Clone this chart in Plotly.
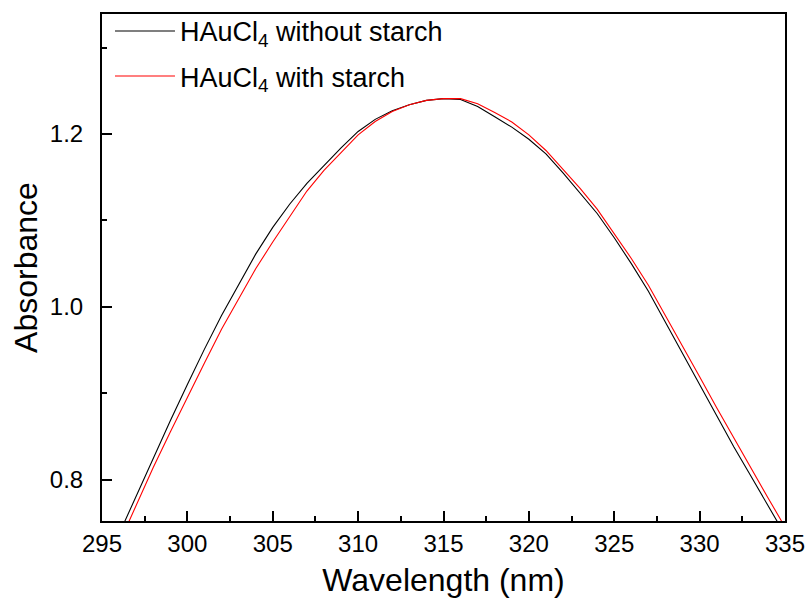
import plotly.graph_objects as go

# Data (absorbance spectra)
wl_without = [296, 297, 298, 299, 300, 301, 302, 303, 304, 305, 306, 307, 308, 309, 310,
              311, 312, 313, 314, 315, 316, 317, 318, 319, 320, 321, 322, 323, 324, 325,
              326, 327, 328, 329, 330, 331, 332, 333, 334, 335]
abs_without = [0.737, 0.781, 0.825, 0.868, 0.910, 0.951, 0.990, 1.026, 1.061, 1.092,
               1.119, 1.143, 1.164, 1.184, 1.203, 1.217, 1.227, 1.234, 1.239, 1.241,
               1.240, 1.232, 1.220, 1.208, 1.194, 1.177, 1.155, 1.132, 1.108, 1.080,
               1.050, 1.018, 0.982, 0.945, 0.909, 0.873, 0.838, 0.804, 0.770, 0.736]

wl_with = [296, 297, 298, 299, 300, 301, 302, 303, 304, 305, 306, 307, 308, 309, 310,
           311, 312, 313, 314, 315, 316, 317, 318, 319, 320, 321, 322, 323, 324, 325,
           326, 327, 328, 329, 330, 331, 332, 333, 334, 335]
abs_with = [0.726, 0.771, 0.814, 0.855, 0.896, 0.935, 0.974, 1.009, 1.044, 1.075,
            1.105, 1.134, 1.158, 1.178, 1.199, 1.2146, 1.226, 1.234, 1.239, 1.241,
            1.241, 1.235, 1.225, 1.214, 1.199, 1.181, 1.159, 1.137, 1.113, 1.085,
            1.056, 1.025, 0.990, 0.954, 0.919, 0.883, 0.848, 0.814, 0.779, 0.745]

series_names = ["HAuCl<sub>4</sub> without starch", "HAuCl<sub>4</sub> with starch"]
x_ticks = [295, 300, 305, 310, 315, 320, 325, 330, 335]
y_ticks = [0.8, 1.0, 1.2]

FONT = "Liberation Sans, Arial, sans-serif"

fig = go.Figure()
fig.add_trace(go.Scatter(x=wl_without, y=abs_without, mode="lines", name=series_names[0],
                         legendgroup="a", line=dict(color="black", width=1.1)))
fig.add_trace(go.Scatter(x=wl_with, y=abs_with, mode="lines", name=series_names[1],
                         legendgroup="b", line=dict(color="red", width=1.1)))

axis_common = dict(showline=True, linecolor="black", linewidth=2, mirror=True,
                   ticks="inside", tickcolor="black", tickwidth=2, ticklen=10,
                   showgrid=False, zeroline=False, automargin=False,
                   tickfont=dict(family=FONT, size=24, color="black"))

fig.update_xaxes(range=[295, 335], tickvals=x_ticks, ticktext=[str(v) for v in x_ticks],
                 minor=dict(dtick=2.5, ticks="inside", ticklen=5, tickwidth=2, tickcolor="black"),
                 title=dict(text="Wavelength (nm)", font=dict(family=FONT, size=32, color="black"),
                            standoff=13),
                 **axis_common)
fig.update_yaxes(range=[0.752, 1.339], tickvals=y_ticks, ticktext=[f"{v:.1f}" for v in y_ticks],
                 minor=dict(dtick=0.1, tick0=0.8, ticks="inside", ticklen=5, tickwidth=2, tickcolor="black"),
                 title=dict(text="Absorbance", font=dict(family=FONT, size=32, color="black"),
                            standoff=3),
                 ticklabelstandoff=12,
                 **axis_common)

fig.update_layout(
    width=809, height=599,
    margin=dict(l=102, r=24, t=14, b=78, pad=0, autoexpand=False),
    paper_bgcolor="white", plot_bgcolor="white",
    showlegend=True,
    legend=dict(x=0.0117, y=1.014, xanchor="left", yanchor="top",
                bgcolor="rgba(0,0,0,0)", borderwidth=0,
                font=dict(family=FONT, size=27, color="black"),
                itemwidth=60, tracegroupgap=7),
)

fig.write_html("out.html", config={"displayModeBar": False},
               post_script="document.body.style.margin='0';document.body.style.padding='0';")
